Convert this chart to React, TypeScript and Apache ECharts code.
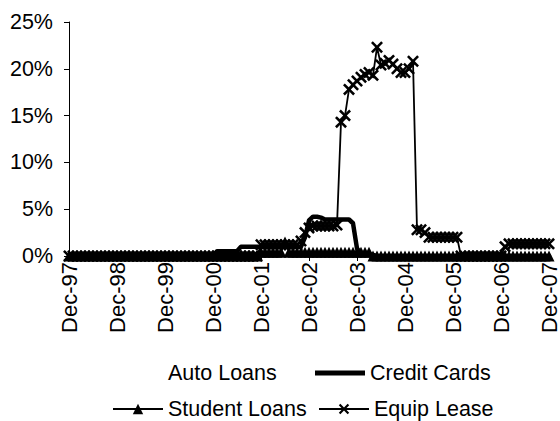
import React, { useEffect, useRef } from "react";
import * as echarts from "echarts";

const monthNames = ["Jan", "Feb", "Mar", "Apr", "May", "Jun", "Jul", "Aug", "Sep", "Oct", "Nov", "Dec"];
const startYear = 1997; // Dec-97
const monthCount = 121; // Dec-97 .. Dec-07
const categories: string[] = [];
for (let i = 0; i < monthCount; i++) {
  const m = (11 + i) % 12;
  const y = startYear + Math.floor((11 + i) / 12);
  categories.push(monthNames[m] + "-" + String(y % 100).padStart(2, "0"));
}

const yTicks = [0, 5, 10, 15, 20, 25];

const autoLoans = [
  0, 0, 0, 0, 0, 0, 0, 0, 0, 0, 0, 0, 0, 0, 0, 0, 0, 0, 0, 0,
  0, 0, 0, 0, 0, 0, 0, 0, 0, 0, 0, 0, 0, 0, 0, 0, 0, 0, 0, 0,
  0, 0, 0, 0, 0, 0, 0, 0, 0, 0, 0, 0, 0, 0, 0, 0, 0, 0, 0, 0,
  0, 0, 0, 0, 0, 0, 0, 0, 0, 0, 0, 0, 0, 0, 0, 0, 0, 0, 0, 0,
  0, 0, 0, 0, 0, 0, 0, 0, 0, 0, 0, 0, 0, 0, 0, 0, 0, 0, 0, 0,
  0, 0, 0, 0, 0, 0, 0, 0, 0, 0, 0, 0, 0, 0, 0, 0, 0, 0, 0, 0,
  0,
];

const creditCards = [
  // 0-36
  0, 0, 0, 0, 0, 0, 0, 0, 0, 0, 0, 0, 0, 0, 0, 0, 0, 0, 0, 0,
  0, 0, 0, 0, 0, 0, 0, 0, 0, 0, 0, 0, 0, 0, 0, 0, 0,
  // 37-42
  0.5, 0.5, 0.5, 0.5, 0.5, 0.5,
  // 43-58
  1.0, 1.0, 1.0, 1.0, 1.0, 1.0, 1.0, 1.0, 1.0, 1.0, 1.0, 1.0, 1.0, 1.0, 1.0, 1.0,
  // 59-63
  2.0, 3.8, 4.2, 4.2, 4.1,
  // 64-70
  3.9, 3.9, 3.9, 3.9, 3.9, 3.9, 3.9,
  // 71-76
  3.5, 0.8, 0.3, 0.2, 0.2, 0.1,
  // 77-120
  0, 0, 0, 0, 0, 0, 0, 0, 0, 0, 0, 0, 0, 0, 0, 0, 0, 0, 0, 0,
  0, 0, 0, 0, 0, 0, 0, 0, 0, 0, 0, 0, 0, 0, 0, 0, 0, 0, 0, 0,
  0, 0, 0, 0,
];

const studentLoans = [
  // 0-47
  0, 0, 0, 0, 0, 0, 0, 0, 0, 0, 0, 0, 0, 0, 0, 0, 0, 0, 0, 0,
  0, 0, 0, 0, 0, 0, 0, 0, 0, 0, 0, 0, 0, 0, 0, 0, 0, 0, 0, 0,
  0, 0, 0, 0, 0, 0, 0, 0,
  // 48-53
  0.4, 0.4, 0.4, 0.4, 0.4, 0.4,
  // 54
  1.5,
  // 55-75
  0.4, 0.4, 0.4, 0.4, 0.4, 0.4, 0.4, 0.4, 0.4, 0.4, 0.4, 0.4, 0.4, 0.4, 0.4, 0.4,
  0.4, 0.4, 0.4, 0.4, 0.4,
  // 76-120
  0, 0, 0, 0, 0, 0, 0, 0, 0, 0, 0, 0, 0, 0, 0, 0, 0, 0, 0, 0,
  0, 0, 0, 0, 0, 0, 0, 0, 0, 0, 0, 0, 0, 0, 0, 0, 0, 0, 0, 0,
  0, 0, 0, 0, 0,
];

const equipLease = [
  // 0-47
  0, 0, 0, 0, 0, 0, 0, 0, 0, 0, 0, 0, 0, 0, 0, 0, 0, 0, 0, 0,
  0, 0, 0, 0, 0, 0, 0, 0, 0, 0, 0, 0, 0, 0, 0, 0, 0, 0, 0, 0,
  0, 0, 0, 0, 0, 0, 0, 0,
  // 48-57
  1.2, 1.2, 1.2, 1.2, 1.2, 1.2, 1.2, 1.2, 1.2, 1.2,
  // 58-60
  1.6, 2.5, 3.0,
  // 61-67
  3.2, 3.2, 3.2, 3.2, 3.2, 3.2, 3.3,
  // 68-86
  14.3, 15.0, 17.8, 18.3, 18.7, 19.1, 19.4, 19.6, 19.3, 22.3,
  20.4, 20.6, 20.9, 20.5, 20.0, 19.6, 19.6, 20.0, 20.8,
  // 87-89
  2.8, 2.8, 2.5,
  // 90-97
  2.0, 2.0, 2.0, 2.0, 2.0, 2.0, 2.0, 2.0,
  // 98-108
  0, 0, 0, 0, 0, 0, 0, 0, 0, 0, 0,
  // 109
  1.0,
  // 110-120
  1.3, 1.3, 1.3, 1.3, 1.3, 1.3, 1.3, 1.3, 1.3, 1.3, 1.3,
];

const FONT = "'Liberation Sans', Arial, sans-serif";
const X_SYMBOL =
  "path://M0,1.5L1.5,0L5,3.5L8.5,0L10,1.5L6.5,5L10,8.5L8.5,10L5,6.5L1.5,10L0,8.5L3.5,5Z";

export default function App() {
  const ref = useRef<HTMLDivElement>(null);

  useEffect(() => {
    if (!ref.current) return;
    const chart = echarts.init(ref.current, null, { renderer: "svg" });
    const legendText = { fontSize: 21.5, color: "#000", fontFamily: FONT };
    const legendBase = {
      orient: "horizontal" as const,
      itemWidth: 50,
      itemHeight: 10,
      padding: 0,
      selectedMode: false,
      textStyle: legendText,
    };
    chart.setOption({
      animation: false,
      backgroundColor: "#fff",
      grid: { left: 69, right: 7, top: 22, bottom: 165, containLabel: false },
      xAxis: {
        type: "category",
        data: categories,
        boundaryGap: false,
        axisLine: { show: true, lineStyle: { color: "#000", width: 1 } },
        axisTick: { show: true, interval: 11, length: 5, lineStyle: { color: "#000" } },
        axisLabel: {
          interval: 11,
          rotate: 90,
          margin: 6,
          fontSize: 22,
          color: "#000",
          fontFamily: FONT,
        },
        splitLine: { show: false },
      },
      yAxis: {
        type: "value",
        min: yTicks[0],
        max: yTicks[yTicks.length - 1],
        interval: 5,
        axisLine: { show: true, lineStyle: { color: "#000", width: 1 } },
        axisTick: { show: true, length: 5, lineStyle: { color: "#000" } },
        axisLabel: {
          formatter: "{value}%",
          margin: 16,
          fontSize: 21.5,
          color: "#000",
          fontFamily: FONT,
        },
        splitLine: { show: false },
      },
      legend: [
        {
          ...legendBase,
          left: 113,
          top: 362,
          data: [
            {
              name: "Auto Loans",
              icon: "none",
              itemStyle: { opacity: 0 },
              lineStyle: { opacity: 0 },
            },
          ],
        },
        {
          ...legendBase,
          left: 315,
          top: 362,
          itemHeight: 5,
          data: [{ name: "Credit Cards", icon: "rect", itemStyle: { color: "#000" } }],
        },
        { ...legendBase, left: 112, top: 398, itemHeight: 13, data: ["Student Loans"] },
        { ...legendBase, left: 318, top: 398, itemHeight: 13, data: ["Equip Lease"] },
      ],
      series: [
        {
          name: "Auto Loans",
          type: "line",
          data: autoLoans,
          symbol: "none",
          lineStyle: { opacity: 0, width: 0 },
          itemStyle: { color: "#fff", opacity: 0 },
        },
        {
          name: "Credit Cards",
          type: "line",
          data: creditCards,
          symbol: "none",
          lineStyle: { color: "#000", width: 4.5, join: "round", cap: "round" },
          itemStyle: { color: "#000" },
        },
        {
          name: "Student Loans",
          type: "line",
          data: studentLoans,
          symbol: "triangle",
          symbolSize: 11,
          showSymbol: true,
          showAllSymbol: true,
          lineStyle: { color: "#000", width: 1.8 },
          itemStyle: { color: "#000" },
        },
        {
          name: "Equip Lease",
          type: "line",
          data: equipLease,
          symbol: X_SYMBOL,
          symbolSize: 12,
          showSymbol: true,
          showAllSymbol: true,
          lineStyle: { color: "#000", width: 1.8 },
          itemStyle: { color: "#000" },
        },
      ],
    });
    return () => chart.dispose();
  }, []);

  return (
    <div
      ref={ref}
      style={{ position: "fixed", left: 0, top: 0, width: 560, height: 421, background: "#fff" }}
    />
  );
}
